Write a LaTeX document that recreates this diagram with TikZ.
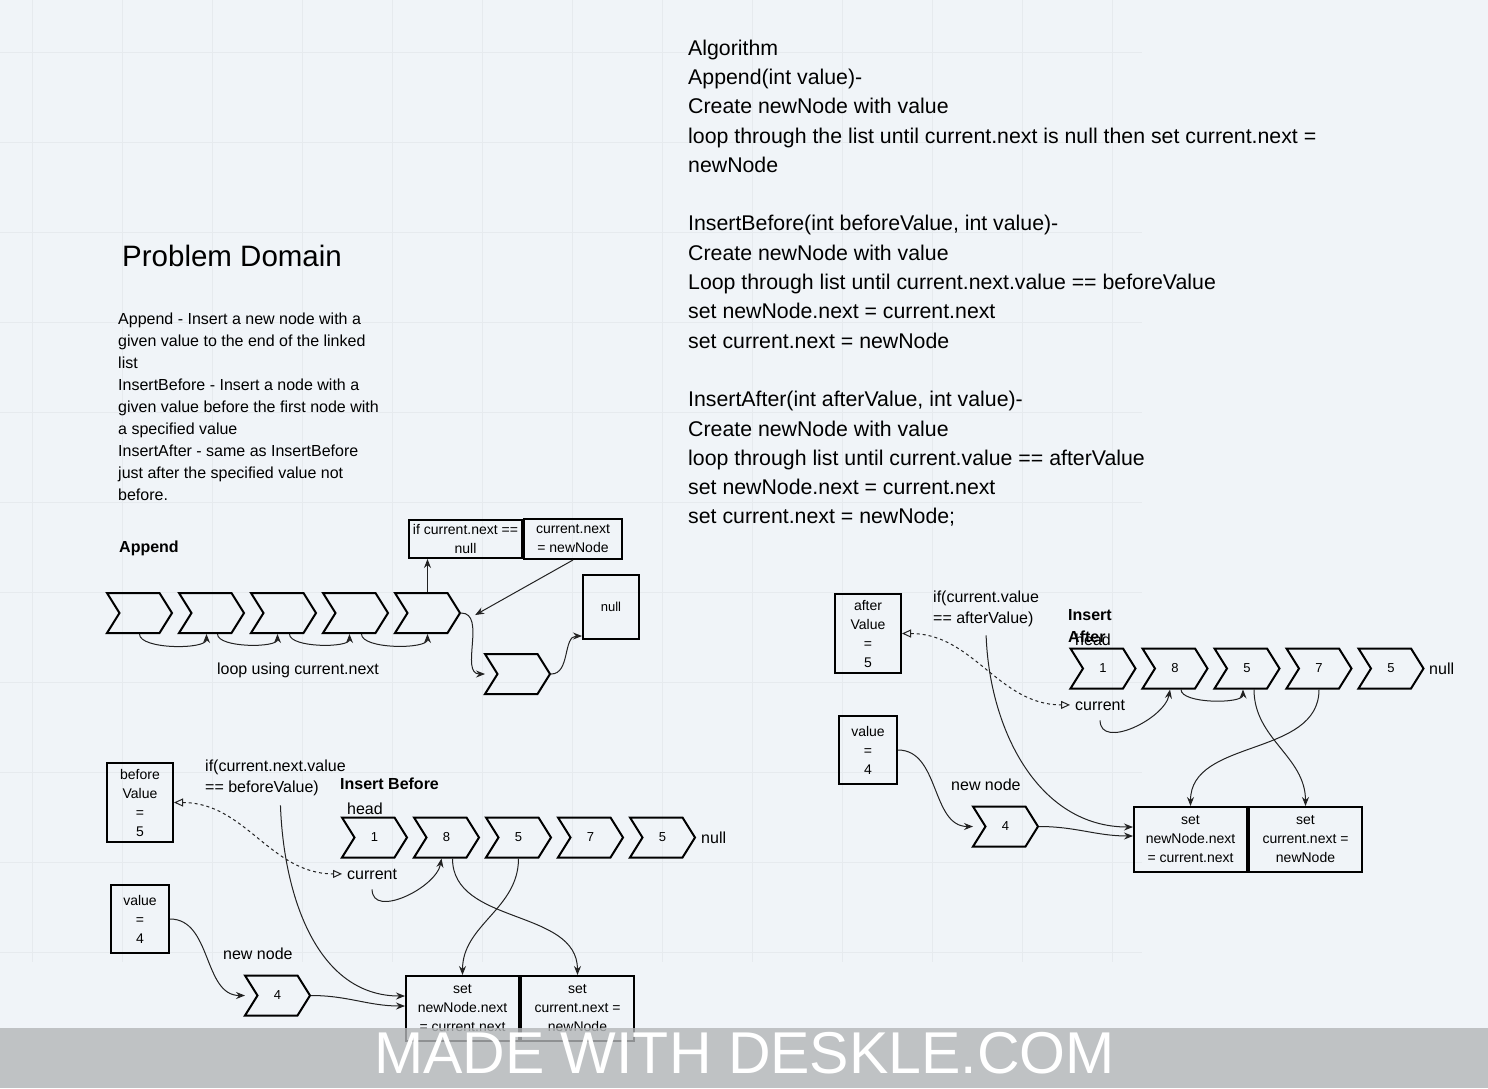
\documentclass[tikz,border=0pt]{standalone}
\usepackage{fontspec}
\setmainfont{Liberation Sans}
\usepackage{tikz}
\usetikzlibrary{shapes.symbols, arrows.meta, positioning, calc}
\definecolor{bgcol}{HTML}{F0F4F8}
\definecolor{gridcol}{HTML}{E6EAEE}
\definecolor{bandcol}{RGB}{179,182,184}
\definecolor{linecol}{HTML}{222222}
\tikzstyle{chevron} = [signal, signal to=east, signal from=west, signal pointer angle=116, minimum width=65pt, minimum height=40pt, inner sep=0pt, draw=black, line width=2pt, font=\fontsize{13}{15}\selectfont]
\tikzstyle{codebox} = [rectangle, draw=black, line width=2pt, align=center, inner sep=0pt, font=\fontsize{14}{19}\selectfont]
\tikzstyle{plaintext} = [inner sep=0pt, font=\fontsize{16}{21}\selectfont]
\tikzstyle{boldtext} = [inner sep=0pt, font=\bfseries\fontsize{16}{22}\selectfont]
\tikzstyle{arrow} = [line width=1pt, draw=linecol, -{Stealth[length=9pt,width=7pt,inset=3pt]}]
\tikzstyle{lookup} = [line width=1pt, draw=linecol, dash pattern=on 3pt off 3pt, {Triangle[open,length=9pt,width=8pt]}-{Triangle[open,length=9pt,width=8pt]}]
\tikzstyle{gridline} = [line width=0.8pt, draw=gridcol]

\begin{document}
\begin{tikzpicture}[x=1pt, y=-1pt, node distance=72pt]
            % Canvas
            \useasboundingbox (0,0) rectangle (1488,1088);
            \fill [bgcol] (0,0) rectangle (1488,1088);
            \foreach \x in {32,122,...,1112} \draw [gridline] (\x,0) -- (\x,962);
            \foreach \y in {52,142,...,952} \draw [gridline] (0,\y) -- (1142,\y);

            % Texts
            \node (algo) [anchor=north west, inner sep=0pt, align=left, font=\fontsize{21.3}{29.3}\selectfont] at (688,39.5) {Algorithm\\Append(int value)-\\Create newNode with value\\loop through the list until current.next is null then set current.next =\\newNode\\[29.3pt]InsertBefore(int beforeValue, int value)-\\Create newNode with value\\Loop through list until current.next.value == beforeValue\\set newNode.next = current.next\\set current.next = newNode\\[29.3pt]InsertAfter(int afterValue, int value)-\\Create newNode with value\\loop through list until current.value == afterValue\\set newNode.next = current.next\\set current.next = newNode;};
            \node (title) [anchor=base west, inner sep=0pt, font=\fontsize{29.5}{32}\selectfont] at (122,266) {Problem Domain};
            \node (desc) [plaintext, anchor=north west, align=left, font=\fontsize{16}{22}\selectfont] at (118,312.5) {Append - Insert a new node with a\\given value to the end of the linked\\list\\InsertBefore - Insert a node with a\\given value before the first node with\\a specified value\\InsertAfter - same as InsertBefore\\just after the specified value not\\before.};

            % Append
            \node (appendlbl) [boldtext, anchor=base west] at (119,552) {Append};
            \node (a1) [chevron] at (139.5,613) {};
            \node (a2) [chevron, right of=a1] {};
            \node (a3) [chevron, right of=a2] {};
            \node (a4) [chevron, right of=a3] {};
            \node (a5) [chevron, right of=a4] {};
            \node (anew) [chevron] at (517.5,674) {};
            \node (ifnull) [codebox, minimum width=113pt, minimum height=38pt] at (465.5,539) {if current.next ==\\null};
            \node (setnext) [codebox, minimum width=98pt, minimum height=40pt] at (573,539) {current.next\\= newNode};
            \node (nullbox) [codebox, minimum width=56pt, minimum height=64pt, font=\fontsize{13}{15}\selectfont] at (611,607) {null};
            \node (looplbl) [plaintext, anchor=base] at (298,674) {loop using current.next};

            \draw [arrow] (a1.south) to[out=-90, in=-90, looseness=0.6] ([xshift=-5pt]a2.south);
            \draw [arrow] ([xshift=6pt]a2.south) to[out=-90, in=-90, looseness=0.6] ([xshift=-6pt]a3.south);
            \draw [arrow] ([xshift=6pt]a3.south) to[out=-90, in=-90, looseness=0.6] ([xshift=-6pt]a4.south);
            \draw [arrow] ([xshift=6pt]a4.south) to[out=-90, in=-90, looseness=0.6] (a5.south);
            \draw [arrow] (a5.north) -- (a5.north |- ifnull.south);
            \draw [arrow] (setnext.south) -- ([xshift=14pt,yshift=-2pt]a5.east);
            \draw [arrow] (a5.east) to[out=0, in=180] ([xshift=-32.5pt]anew.center);
            \draw [arrow] (anew.east) to[out=0, in=180] ([yshift=-29pt]nullbox.west);

            % Insert Before
            \node (bv) [codebox, minimum width=66pt, minimum height=79pt] at (140,802.5) {before\\Value\\=\\5};
            \node (bval) [codebox, minimum width=58pt, minimum height=68pt] at (140,919) {value\\=\\4};
            \node (ifb) [plaintext, anchor=north west, align=left] at (205,760) {if(current.next.value\\== beforeValue)};
            \node (beforelbl) [boldtext, anchor=base west] at (340,789) {Insert Before};
            \node (headb) [plaintext, anchor=base west] at (347,814) {head};
            \node (b1) [chevron] at (374.5,837.5) {1};
            \node (b2) [chevron, right of=b1] {8};
            \node (b3) [chevron, right of=b2] {5};
            \node (b4) [chevron, right of=b3] {7};
            \node (b5) [chevron, right of=b4] {5};
            \node (nullb) [plaintext, anchor=base west] at (701,843) {null};
            \node (curb) [plaintext, anchor=base west] at (347,879) {current};
            \node (newb) [plaintext, anchor=base west] at (223,959) {new node};
            \node (b4new) [chevron] at (277.5,995.5) {4};
            \node (sb1) [codebox, minimum width=113pt, minimum height=65pt] at (462.5,1008.5) {set\\newNode.next\\= current.next};
            \node (sb2) [codebox, minimum width=113pt, minimum height=65pt] at (577.5,1008.5) {set\\current.next =\\newNode};

            \draw [lookup] (bv.east) to[out=0, in=180] ([xshift=-5pt]curb.west);
            \draw [arrow] ([yshift=-10pt]curb.south) to[out=-90, in=-100] ([xshift=-5pt]b2.south);
            \draw [arrow] ([xshift=5pt,yshift=-9pt]ifb.south) to[out=-88, in=180] ([yshift=12.5pt]sb1.west);
            \draw [arrow] (bval.east) to[out=0, in=180] ([xshift=-32.5pt]b4new.center);
            \draw [arrow] (b4new.east) to[out=0, in=180] ([yshift=2.5pt]sb1.west);
            \draw [arrow] (b3.south) to[out=-90, in=90] (sb1.north);
            \draw [arrow] ([xshift=6pt]b2.south) to[out=-90, in=90] (sb2.north);

            % Insert After
            \node (av) [codebox, minimum width=66pt, minimum height=79pt] at (868,633.5) {after\\Value\\=\\5};
            \node (aval) [codebox, minimum width=58pt, minimum height=68pt] at (868,750) {value\\=\\4};
            \node (ifa) [plaintext, anchor=north west, align=left] at (933,591) {if(current.value\\== afterValue)};
            \node (afterlbl) [boldtext, anchor=north west, align=left] at (1068,609) {Insert\\After};
            \node (heada) [plaintext, anchor=base west] at (1075,645) {head};
            \node (f1) [chevron] at (1103,668.5) {1};
            \node (f2) [chevron, right of=f1] {8};
            \node (f3) [chevron, right of=f2] {5};
            \node (f4) [chevron, right of=f3] {7};
            \node (f5) [chevron, right of=f4] {5};
            \node (nulla) [plaintext, anchor=base west] at (1429,674) {null};
            \node (cura) [plaintext, anchor=base west] at (1075,710) {current};
            \node (newa) [plaintext, anchor=base west] at (951,790) {new node};
            \node (f4new) [chevron] at (1005.5,826.5) {4};
            \node (sa1) [codebox, minimum width=113pt, minimum height=65pt] at (1190.5,839.5) {set\\newNode.next\\= current.next};
            \node (sa2) [codebox, minimum width=113pt, minimum height=65pt] at (1305.5,839.5) {set\\current.next =\\newNode};

            \draw [lookup] (av.east) to[out=0, in=180] ([xshift=-5pt]cura.west);
            \draw [arrow] ([yshift=-10pt]cura.south) to[out=-90, in=-100] ([xshift=-5pt]f2.south);
            \draw [arrow] ([xshift=6pt]f2.south) to[out=-90, in=-90, looseness=0.6] ([xshift=-4pt]f3.south);
            \draw [arrow] ([yshift=-8pt]ifa.south) to[out=-88, in=180] ([yshift=12.5pt]sa1.west);
            \draw [arrow] (aval.east) to[out=0, in=180] ([xshift=-32.5pt]f4new.center);
            \draw [arrow] (f4new.east) to[out=0, in=180] ([yshift=3.5pt]sa1.west);
            \draw [arrow] (f4.south) to[out=-90, in=90] (sa1.north);
            \draw [arrow] ([xshift=7pt]f3.south) to[out=-90, in=90] (sa2.north);

            % Watermark
            \fill [bandcol, opacity=0.8] (0,1028) rectangle (1488,1088);
            \node (brand) [inner sep=0pt, text=white, font=\fontsize{59}{60}\selectfont] at (744.5,1053) {MADE WITH DESKLE.COM};
        \end{tikzpicture}
\end{document}
